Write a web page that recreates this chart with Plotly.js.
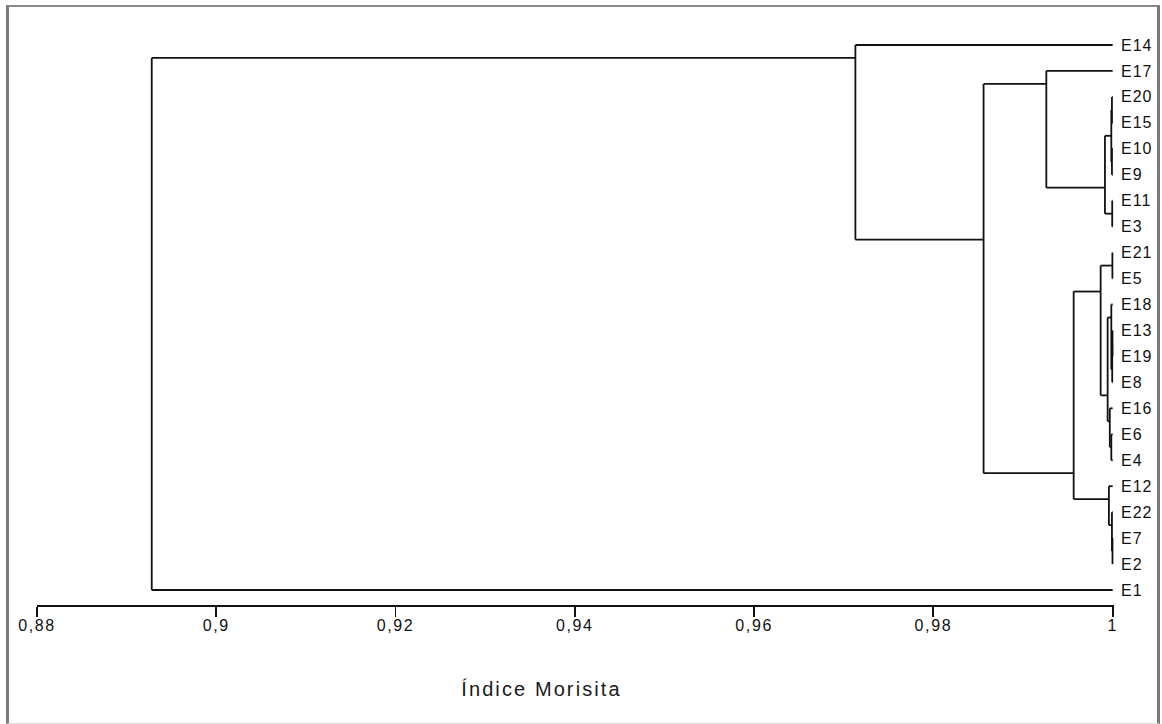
<!DOCTYPE html>
<html>
<head>
<meta charset="utf-8">
<script src="https://cdn.plot.ly/plotly-3.0.1.min.js"></script>
<style>
  html, body { margin: 0; padding: 0; background: #ffffff; }
  #wrap { position: relative; width: 1162px; height: 724px; overflow: hidden; }
  #chart { position: absolute; left: 0; top: 0; width: 1162px; height: 724px; }
  #frame {
    position: absolute; left: 6px; top: 5px; width: 1148px; height: 716px;
    border-left: 3px solid #7a7a7a; border-top: 2px solid #8a8a8a;
    border-right: 3px solid #7a7a7a; border-bottom: 1px solid #dcdcdc;
    pointer-events: none;
  }
  #chart .xtick text { letter-spacing: 1.6px; }
  #chart .ytick text { letter-spacing: 1px; }
  #chart .gtitle { letter-spacing: 2.1px; }
</style>
</head>
<body>
<div id="wrap">
  <div id="chart"></div>
  <div id="frame"></div>
</div>
<script>
// Agglomerative clustering of the sampling stations (Morisita similarity).
// Each merge joins a "first" and a "second" member; members are station
// names or "#k", the k-th merge listed before it.
const clusterFirst  = ["E20", "E10", "#0", "E11", "#2", "E17", "E21", "E13", "#7", "E18", "E6",
                       "E16", "#9", "#6", "E7", "E22", "E12", "#13", "#5", "E14", "#19"];
const clusterSecond = ["E15", "E9", "#1", "E3", "#3", "#4", "E5", "E19", "E8", "#8", "E4",
                       "#10", "#11", "#12", "E2", "#14", "#15", "#16", "#17", "#18", "E1"];
const clusterSimilarity = [0.99992, 0.99992, 0.99985, 0.99995, 0.99914, 0.9926, 0.99997, 0.99998,
                           0.99995, 0.99985, 0.99985, 0.99968, 0.99944, 0.99866, 0.99998, 0.99992,
                           0.99958, 0.99565, 0.9856, 0.9713, 0.8928];
const leafSimilarity = 1;          // a station compared with itself
const axisTitle = "Índice Morisita";

// --- dendrogram layout -------------------------------------------------
const rootId = "#" + (clusterFirst.length - 1);
const isNode = m => m.charAt(0) === "#";
const nodeIdx = m => parseInt(m.slice(1), 10);

// leaf order: depth-first, first member above second
const leafOrder = [];
(function walk(m) {
  if (isNode(m)) { const k = nodeIdx(m); walk(clusterFirst[k]); walk(clusterSecond[k]); }
  else leafOrder.push(m);
})(rootId);
const leafRow = {};
leafOrder.forEach((n, i) => { leafRow[n] = i; });

function lastRow(m) {
  if (!isNode(m)) return leafRow[m];
  const k = nodeIdx(m);
  return Math.max(lastRow(clusterFirst[k]), lastRow(clusterSecond[k]));
}
// a cluster hangs just below the block of its first member
function anchorRow(m) {
  if (!isNode(m)) return leafRow[m];
  return lastRow(clusterFirst[nodeIdx(m)]) + 0.5;
}
function level(m) { return isNode(m) ? clusterSimilarity[nodeIdx(m)] : leafSimilarity; }

const xs = [], ys = [];
clusterFirst.forEach((a, k) => {
  const b = clusterSecond[k], h = clusterSimilarity[k];
  const ya = anchorRow(a), yb = anchorRow(b);
  xs.push(h, h, null);              ys.push(ya, yb, null);
  xs.push(level(a), h, null);       ys.push(ya, ya, null);
  xs.push(level(b), h, null);       ys.push(yb, yb, null);
});

const font = "'Liberation Sans', Arial, sans-serif";
const ink = "#111111";

Plotly.newPlot("chart", [{
  type: "scatter", mode: "lines", x: xs, y: ys,
  line: { color: ink, width: 1.8 }, connectgaps: false,
  hoverinfo: "skip", showlegend: false
}], {
  width: 1162, height: 724,
  margin: { l: 37, r: 48, t: 32, b: 119, pad: 0 },
  paper_bgcolor: "#ffffff", plot_bgcolor: "#ffffff",
  separators: ",.",
  showlegend: false,
  title: {
    text: axisTitle, font: { family: font, size: 20, color: "#1a1a1a" },
    xref: "container", yref: "container", x: 0.466, y: 0.048,
    xanchor: "center", yanchor: "middle"
  },
  xaxis: {
    range: [0.88, 1.00015], tick0: 0.88, dtick: 0.02, tickformat: "~g",
    ticks: "outside", ticklen: 10, tickwidth: 1.8, tickcolor: ink,
    showline: true, linecolor: ink, linewidth: 1.8,
    showgrid: false, zeroline: false, fixedrange: true,
    ticklabelstandoff: -5,
    tickfont: { family: font, size: 16, color: ink }
  },
  yaxis: {
    range: [leafOrder.length - 1 + 0.578, -0.5], side: "right",
    tickmode: "array", tickvals: leafOrder.map((n, i) => i), ticktext: leafOrder,
    ticks: "", showline: false, showgrid: false, zeroline: false, fixedrange: true,
    ticklabelstandoff: 6,
    tickfont: { family: font, size: 16, color: ink }
  }
}, { staticPlot: true, displayModeBar: false });
</script>
</body>
</html>
